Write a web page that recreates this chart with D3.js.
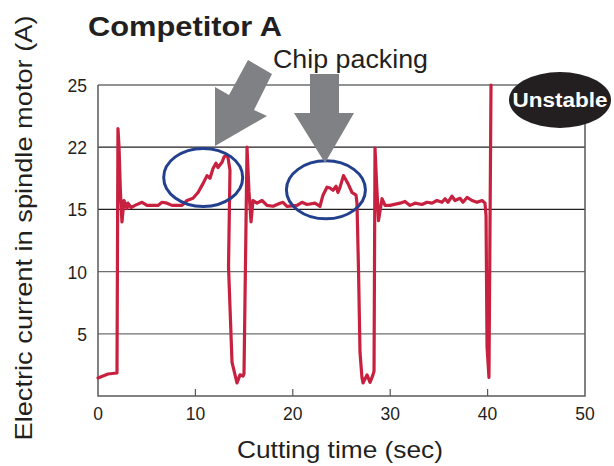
<!DOCTYPE html>
<html><head><meta charset="utf-8">
<script src="https://cdn.jsdelivr.net/npm/d3@7"></script>
<style>
html,body{margin:0;padding:0;background:#fff;}
svg{display:block;font-family:"Liberation Sans",Arial,Helvetica,sans-serif;}
</style></head>
<body><svg id="chart" width="614" height="466"></svg>
<script>
// ---- data ----
const title = "Competitor A";
const xLabel = "Cutting time (sec)";
const yLabel = "Electric current in spindle motor (A)";
const annotation = "Chip packing";
const badge = "Unstable";
const xTicks = [0, 10, 20, 30, 40, 50];
const yTicks = [5, 10, 15, 22, 25];
const yBreaks = [0, 5, 10, 15, 22, 25];
const timeSec = [0,1.03,1.95,2.05,2.16,2.3,2.46,2.67,2.98,3.08,3.39,3.8,4.52,5.03,6.16,6.57,7.08,7.6,8.62,9.14,9.75,10.27,10.78,11.19,11.5,11.81,12.11,12.32,12.73,12.94,13.24,13.35,13.55,13.4,13.76,14.27,14.58,14.89,14.99,15.3,15.5,15.71,15.91,16.32,16.84,17.35,17.97,18.69,18.99,19.4,20.43,20.94,21.46,22.28,22.79,23.1,23.51,23.82,24.13,24.44,24.64,24.85,25.2,25.46,25.67,26.08,26.49,26.59,26.75,26.9,27.1,27.21,27.62,27.93,28.23,28.34,28.44,28.6,28.8,29.16,29.47,29.98,31.01,31.52,32.03,32.55,33.26,33.78,34.29,34.8,35.32,35.63,35.93,36.34,36.65,37.17,37.47,37.89,38.4,38.91,39.43,39.73,39.84,39.94,40.14,40.35];
const currentA = [1.45,1.77,1.85,22.9,22.0,17.0,14.0,16.0,15.1,15.7,15.2,15.45,15.8,15.45,15.45,15.8,15.7,15.45,15.45,16.0,16.25,16.9,17.9,18.8,18.5,19.6,20.2,19.7,20.3,20.9,21.1,20.8,19.4,10.4,2.7,1.05,1.7,1.6,1.8,22.0,17.0,14.0,16.0,15.7,16.0,15.45,15.35,15.7,15.8,15.35,15.45,15.8,15.55,15.7,15.35,16.6,17.5,17.4,17.15,17.6,16.9,17.5,18.8,18.3,17.9,16.9,16.6,15.7,10,3.5,1.5,1.05,1.7,1.1,1.7,2.0,21.9,18,14.1,16.2,15.45,15.45,15.7,15.9,15.45,15.7,15.55,15.8,15.7,16.0,15.8,16.2,15.8,16.5,16.0,16.25,15.8,16.35,16.0,15.8,16.0,15.7,14.5,4.0,1.5,25.0];
// chip-packing regions (center time, center current)
const circleT = [10.8, 23.4];
const circleA = [18.6, 17.2];

// ---- layout ----
const W = 614, H = 466;
const m = {top: 85, right: 29, bottom: 70, left: 98};
const iw = W - m.left - m.right, ih = H - m.top - m.bottom;
const svg = d3.select("#chart");
const g = svg.append("g").attr("transform", `translate(${m.left},${m.top})`);

const x = d3.scaleLinear().domain([0, 50]).range([0, iw]);
const y = d3.scaleLinear().domain(yBreaks).range(yBreaks.map((d, i) => ih - i * ih / (yBreaks.length - 1)));

// gridlines
g.selectAll("line.grid").data(yTicks).join("line")
  .attr("x1", 0).attr("x2", iw)
  .attr("y1", d => y(d)).attr("y2", d => y(d))
  .attr("stroke", d => (d === 15 || d === 22) ? "#231f20" : "#6d6e71")
  .attr("stroke-width", 1.3);

// frame
g.append("path")
  .attr("d", `M0,0V${ih}H${iw}V0`)
  .attr("fill", "none").attr("stroke", "#58595b").attr("stroke-width", 1.5);

// x ticks (inward)
g.selectAll("line.xt").data(xTicks.slice(1, -1)).join("line")
  .attr("x1", d => x(d)).attr("x2", d => x(d))
  .attr("y1", ih).attr("y2", ih - 7)
  .attr("stroke", "#58595b").attr("stroke-width", 1.2);

// tick labels
g.selectAll("text.xl").data(xTicks).join("text")
  .attr("x", d => x(d)).attr("y", ih + 24)
  .attr("text-anchor", "middle").attr("font-size", 17.5).attr("fill", "#231f20")
  .text(d => d);
g.selectAll("text.yl").data(yTicks).join("text")
  .attr("x", -11).attr("y", d => y(d)).attr("dy", "0.4em")
  .attr("text-anchor", "end").attr("font-size", 17.5).attr("fill", "#231f20")
  .text(d => d);

// data line
const pts = timeSec.map((t, i) => [t, currentA[i]]);
g.append("path").datum(pts)
  .attr("d", d3.line().x(d => x(d[0])).y(d => y(d[1])))
  .attr("fill", "none").attr("stroke", "#c8203f").attr("stroke-width", 3.2)
  .attr("stroke-linejoin", "round").attr("stroke-linecap", "round");

// blue ellipses
g.selectAll("ellipse.c").data(circleT).join("ellipse")
  .attr("cx", d => x(d)).attr("cy", (d, i) => y(circleA[i]))
  .attr("rx", 39.5).attr("ry", 29)
  .attr("fill", "none").attr("stroke", "#23408e").attr("stroke-width", 3);

// arrows (gray)
svg.append("path")
  .attr("d", "M248,60L272,74L254,110L267,116L215,146L215,87L229,95Z")
  .attr("fill", "#808184");
svg.append("path")
  .attr("d", "M310,74L339,74L339,113L354,113L325,163L294,113L310,113Z")
  .attr("fill", "#808184");

// Unstable badge
svg.append("ellipse").attr("cx", 560).attr("cy", 100).attr("rx", 51).attr("ry", 28).attr("fill", "#231f20");
svg.append("text").attr("x", 560).attr("y", 107).attr("text-anchor", "middle")
  .attr("font-size", 20).attr("font-weight", "bold").attr("fill", "#fff")
  .attr("textLength", 95).attr("lengthAdjust", "spacingAndGlyphs").text(badge);

// title & annotation
svg.append("text").attr("x", 88).attr("y", 36).attr("font-size", 27).attr("font-weight", "bold")
  .attr("fill", "#231f20").attr("textLength", 194).attr("lengthAdjust", "spacingAndGlyphs").text(title);
svg.append("text").attr("x", 273).attr("y", 68).attr("font-size", 25)
  .attr("fill", "#231f20").attr("textLength", 155).attr("lengthAdjust", "spacingAndGlyphs").text(annotation);

// axis titles
svg.append("text").attr("x", 340).attr("y", 458).attr("text-anchor", "middle").attr("font-size", 24)
  .attr("fill", "#231f20").attr("textLength", 206).attr("lengthAdjust", "spacingAndGlyphs").text(xLabel);
svg.append("text").attr("transform", "translate(32,228) rotate(-90)").attr("text-anchor", "middle")
  .attr("font-size", 24).attr("fill", "#231f20")
  .attr("textLength", 425).attr("lengthAdjust", "spacingAndGlyphs").text(yLabel);
</script></body></html>
